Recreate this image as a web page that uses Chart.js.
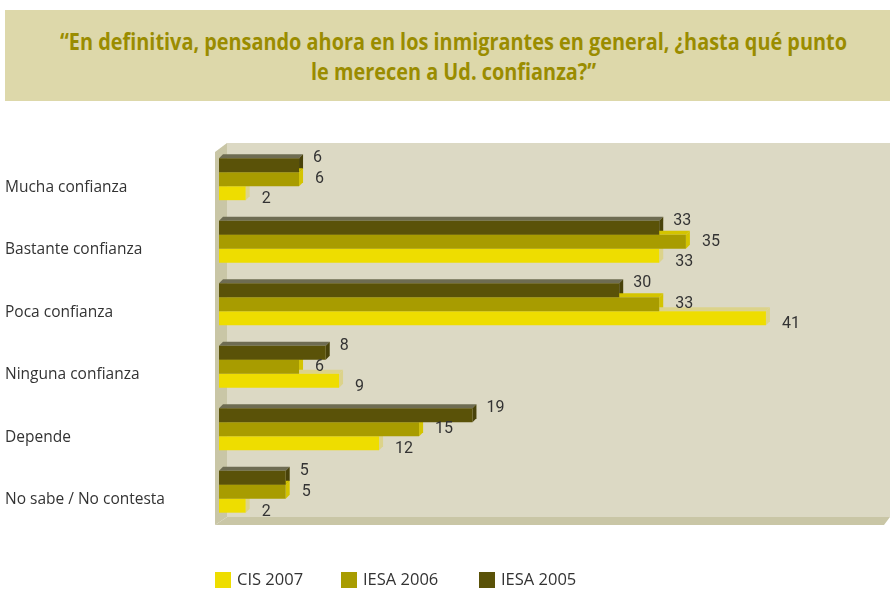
<!DOCTYPE html>
<html><head><meta charset="utf-8">
<script src="https://cdn.jsdelivr.net/npm/chart.js@4/dist/chart.umd.min.js"></script>
<style>
html,body{margin:0;padding:0;background:#fff;width:890px;height:589px;overflow:hidden;}
#title{position:absolute;left:5px;top:10px;width:885px;height:91px;background:#ddd8aa;}
.tl{position:absolute;left:0;white-space:nowrap;color:#9a8c00;font-family:"Open Sans",sans-serif;font-weight:bold;font-size:23px;line-height:30px;transform-origin:0 50%;}
#wrap{position:absolute;left:0;top:0;width:890px;height:589px;}
#legend{position:absolute;top:570px;left:0;font-family:"Open Sans",sans-serif;font-size:16.5px;color:#333;}
.li{position:absolute;white-space:nowrap;}
.sw{position:absolute;width:16px;height:16px;top:2px;left:0;}
.lt{position:absolute;left:22px;top:-3px;}
</style></head><body>
<div id="wrap"><canvas id="c" width="890" height="589"></canvas></div>
<div id="title"><span class="tl" id="t1">“En definitiva, pensando ahora en los inmigrantes en general, ¿hasta qué punto</span><span class="tl" id="t2">le merecen a Ud. confianza?”</span></div>
<div id="legend"></div>
<script>
const categories = ["Mucha confianza","Bastante confianza","Poca confianza","Ninguna confianza","Depende","No sabe / No contesta"];
const seriesNames = ["IESA 2005","IESA 2006","CIS 2007"];
const iesa2005 = [6,33,30,8,19,5];
const iesa2006 = [6,35,33,6,15,5];
const cis2007 = [2,33,41,9,12,2];
const legendOrder = ["CIS 2007","IESA 2006","IESA 2005"];

const front = ["#5a5208","#a89c00","#eedd00"];
const topC = ["#6e6c52","#d4c400","#dcd38a"];
const sideC = ["#48420a","#d4c400","#dcd38a"];
const D = 4;

(function(){
  const t1 = document.getElementById('t1'), t2 = document.getElementById('t2');
  const s = 787 / t1.getBoundingClientRect().width;
  t1.style.top = '16px'; t2.style.top = '46px';
  [t1, t2].forEach(el => { el.style.transform = 'scaleX(' + s + ')'; });
  const w1 = t1.getBoundingClientRect().width;
  t1.style.left = (897 - w1) / 2 + 'px';
  const w2 = t2.getBoundingClientRect().width;
  t2.style.left = (897 - w2) / 2 + 'px';
})();

const wallPlugin = {
  id:'wall',
  beforeDraw(chart){
    const {ctx, chartArea:a} = chart;
    const L = a.left - 4, R = 890, T = 143, B = a.bottom + 2;
    ctx.save();
    ctx.fillStyle = "#dcd9c4";
    ctx.fillRect(L+12, T, R-(L+12), B-8-T);
    ctx.fillStyle = "#c9c6a6";
    ctx.beginPath();
    ctx.moveTo(L, T+9); ctx.lineTo(L+12, T); ctx.lineTo(L+12, B-8); ctx.lineTo(L, B); ctx.closePath(); ctx.fill();
    ctx.beginPath();
    ctx.moveTo(L, B); ctx.lineTo(L+12, B-8); ctx.lineTo(R, B-8); ctx.lineTo(R-6, B); ctx.closePath(); ctx.fill();
    ctx.restore();
  },
  beforeDatasetsDraw(chart){
    const ctx = chart.ctx;
    ctx.save();
    chart.data.datasets.forEach((ds, i) => {
      const meta = chart.getDatasetMeta(i);
      meta.data.forEach(el => {
        const top = el.y - el.height/2, bot = el.y + el.height/2;
        ctx.fillStyle = topC[i];
        ctx.beginPath();
        ctx.moveTo(el.base, top); ctx.lineTo(el.base+D, top-D); ctx.lineTo(el.x+D, top-D); ctx.lineTo(el.x, top); ctx.closePath(); ctx.fill();
        ctx.fillStyle = sideC[i];
        ctx.beginPath();
        ctx.moveTo(el.x, top); ctx.lineTo(el.x+D, top-D); ctx.lineTo(el.x+D, bot-D); ctx.lineTo(el.x, bot); ctx.closePath(); ctx.fill();
      });
    });
    ctx.restore();
  },
  afterDatasetsDraw(chart){
    const ctx = chart.ctx;
    ctx.save();
    ctx.font = '16px Roboto, "Open Sans", sans-serif';
    ctx.fillStyle = "#333";
    ctx.textBaseline = "middle";
    const dx = [10, 12, 12], dy = [-7, 0, 6];
    chart.data.datasets.forEach((ds, i) => {
      const meta = chart.getDatasetMeta(i);
      meta.data.forEach((el, j) => {
        ctx.fillText(String(ds.data[j]), el.x + D + dx[i], el.y + dy[i]);
      });
    });
    ctx.restore();
  }
};

const datasets = [iesa2005, iesa2006, cis2007].map((d, i) => ({
  label: seriesNames[i], data: d, backgroundColor: front[i], borderWidth: 0,
  categoryPercentage: 0.67, barPercentage: 1.0
}));

new Chart(document.getElementById('c'), {
  type: 'bar',
  data: { labels: categories, datasets },
  options: {
    indexAxis: 'y', responsive: false, animation: false,
    layout: { padding: { left: 5, right: 4, top: 148, bottom: 66 } },
    plugins: { legend: { display: false }, tooltip: { enabled: false } },
    scales: {
      x: { min: 0, max: 50, display: false },
      y: {
        grid: { display: false }, border: { display: false },
        ticks: { crossAlign: 'far', labelOffset: 8, color: '#333', font: { family: '"Open Sans", sans-serif', size: 15.5 } },
        afterFit(s){ s.width = 214; }
      }
    }
  },
  plugins: [wallPlugin]
});

const lg = document.getElementById('legend');
const lx = [215, 341, 479];
legendOrder.forEach((n, k) => {
  const i = seriesNames.indexOf(n);
  const d = document.createElement('div');
  d.className = 'li'; d.style.left = lx[k] + 'px';
  d.innerHTML = '<div class="sw" style="background:' + front[i] + '"></div><div class="lt">' + n + '</div>';
  lg.appendChild(d);
});
</script>
</body></html>
